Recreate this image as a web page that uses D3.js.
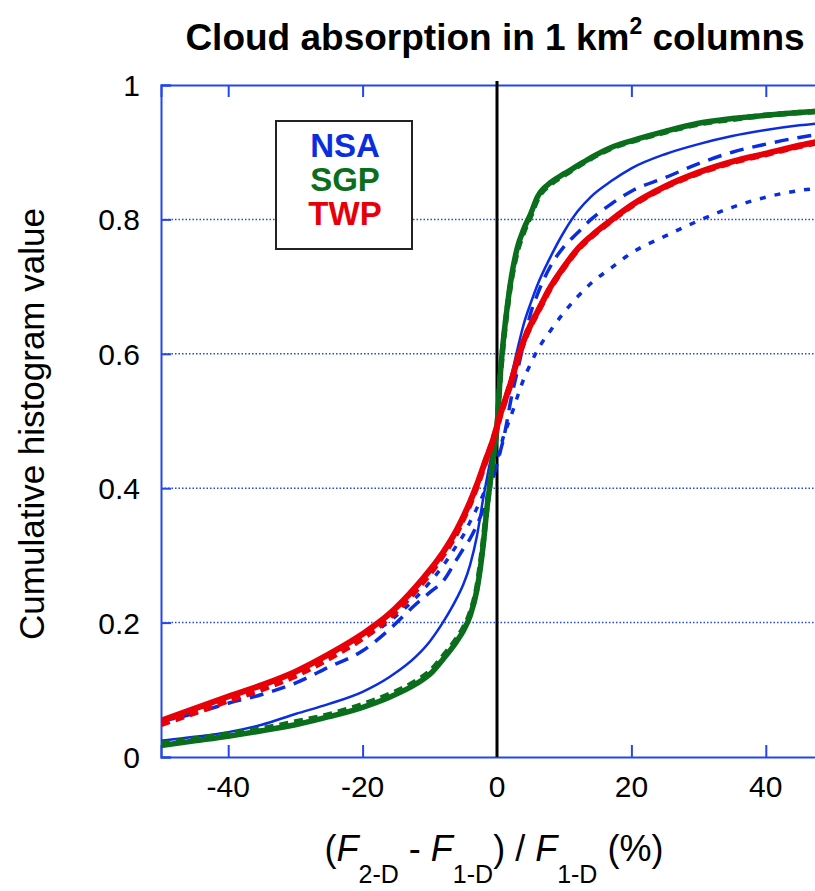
<!DOCTYPE html>
<html>
<head>
<meta charset="utf-8">
<script src="https://cdn.jsdelivr.net/npm/d3@7"></script>
<style>
	body { margin: 0; background: #fff; }
	text { font-family: "Liberation Sans", Arial, Helvetica, sans-serif; }
</style>
</head>
<body>
<svg id="chart" width="815" height="891"></svg>
<script>
var xGrid = [-50, -45, -40, -35, -30, -25, -20, -16, -12, -10, -8, -6, -5, -4, -3, -2, -1.5, -1, -0.5, 0,
	0.5, 1, 1.5, 2, 3, 4, 5, 6, 8, 10, 12, 14, 17, 20, 25, 30, 35, 40, 45, 50];

var nsaSolid = [0.024, 0.030, 0.037, 0.048, 0.064, 0.079, 0.097, 0.119, 0.150, 0.172, 0.201, 0.236, 0.257, 0.286, 0.328, 0.388, 0.415, 0.440, 0.462, 0.483,
	0.505, 0.525, 0.545, 0.562, 0.605, 0.645, 0.675, 0.702, 0.745, 0.782, 0.812, 0.834, 0.857, 0.876, 0.897, 0.912, 0.924, 0.933, 0.940, 0.945];
var nsaDashed = [0.053, 0.065, 0.080, 0.093, 0.110, 0.134, 0.158, 0.190, 0.228, 0.245, 0.262, 0.294, 0.310, 0.325, 0.345, 0.370, 0.385, 0.400, 0.418, 0.435,
	0.455, 0.475, 0.500, 0.528, 0.573, 0.617, 0.660, 0.688, 0.731, 0.760, 0.780, 0.800, 0.823, 0.842, 0.862, 0.883, 0.900, 0.912, 0.922, 0.929];
var nsaDotted = [0.055, 0.071, 0.088, 0.105, 0.124, 0.149, 0.176, 0.202, 0.238, 0.260, 0.285, 0.315, 0.330, 0.350, 0.370, 0.392, 0.405, 0.418, 0.430, 0.443,
	0.460, 0.478, 0.492, 0.505, 0.535, 0.563, 0.585, 0.605, 0.635, 0.662, 0.685, 0.705, 0.728, 0.750, 0.775, 0.798, 0.818, 0.833, 0.843, 0.848];
var sgpSolid = [0.017, 0.024, 0.031, 0.039, 0.048, 0.060, 0.074, 0.089, 0.109, 0.123, 0.146, 0.172, 0.188, 0.210, 0.248, 0.320, 0.370, 0.410, 0.450, 0.490,
	0.570, 0.625, 0.668, 0.705, 0.757, 0.786, 0.808, 0.833, 0.855, 0.868, 0.880, 0.892, 0.907, 0.917, 0.931, 0.943, 0.950, 0.955, 0.959, 0.962];
var sgpDashed = [0.020, 0.027, 0.034, 0.042, 0.052, 0.063, 0.078, 0.093, 0.113, 0.127, 0.150, 0.176, 0.192, 0.214, 0.252, 0.325, 0.372, 0.412, 0.452, 0.492,
	0.568, 0.622, 0.665, 0.702, 0.752, 0.782, 0.805, 0.830, 0.853, 0.866, 0.879, 0.891, 0.906, 0.916, 0.930, 0.942, 0.949, 0.955, 0.959, 0.962];
var twpSolid = [0.054, 0.072, 0.090, 0.107, 0.127, 0.153, 0.183, 0.213, 0.254, 0.278, 0.305, 0.338, 0.358, 0.380, 0.405, 0.433, 0.447, 0.460, 0.475, 0.492,
	0.510, 0.525, 0.540, 0.555, 0.590, 0.620, 0.643, 0.662, 0.700, 0.730, 0.756, 0.775, 0.799, 0.821, 0.849, 0.870, 0.886, 0.898, 0.910, 0.920];
var twpDashed = [0.049, 0.066, 0.084, 0.101, 0.121, 0.147, 0.177, 0.208, 0.249, 0.273, 0.301, 0.334, 0.355, 0.377, 0.403, 0.431, 0.446, 0.459, 0.474, 0.491,
	0.509, 0.524, 0.539, 0.554, 0.589, 0.619, 0.642, 0.661, 0.699, 0.729, 0.755, 0.774, 0.798, 0.820, 0.848, 0.869, 0.885, 0.897, 0.909, 0.919];

var xTicks = [-40, -20, 0, 20, 40];
var yTicks = [0, 0.2, 0.4, 0.6, 0.8, 1];
var legendNames = ["NSA", "SGP", "TWP"];

var colors = { NSA: "#0a2de0", SGP: "#0a6e1c", TWP: "#e80008" };
var frameColor = "#2247ec";

var series = [
	{ site: "NSA", values: nsaSolid, width: 2.5, dash: null },
	{ site: "NSA", values: nsaDashed, width: 3.5, dash: "14,9" },
	{ site: "NSA", values: nsaDotted, width: 3.5, dash: "6,9" },
	{ site: "SGP", values: sgpSolid, width: 5.5, dash: null },
	{ site: "SGP", values: sgpDashed, width: 5.5, dash: "9,6" },
	{ site: "TWP", values: twpSolid, width: 6, dash: null },
	{ site: "TWP", values: twpDashed, width: 6, dash: "9,6" }
];

var plot = { left: 161, top: 85, bottom: 757, right: 833 };

var x = d3.scaleLinear().domain([-50, 50]).range([plot.left, plot.right]);
var y = d3.scaleLinear().domain([0, 1]).range([plot.bottom, plot.top]);

var svg = d3.select("#chart");

svg.append("defs").append("clipPath").attr("id", "plot-clip")
	.append("rect")
	.attr("x", plot.left).attr("y", plot.top)
	.attr("width", plot.right - plot.left).attr("height", plot.bottom - plot.top);

// dotted grid lines
svg.append("g").attr("class", "grid")
	.selectAll("line")
	.data(yTicks.filter(function(d) { return d > 0 && d < 1; }))
	.enter().append("line")
	.attr("x1", plot.left).attr("x2", plot.right)
	.attr("y1", function(d) { return y(d); })
	.attr("y2", function(d) { return y(d); })
	.attr("stroke", frameColor)
	.attr("stroke-width", 1.5)
	.attr("stroke-dasharray", "1.5,2");

// axes with inward ticks
var yAxis = d3.axisRight(y).tickValues(yTicks).tickSize(10).tickFormat("");
var xAxisBottom = d3.axisTop(x).tickValues(xTicks.filter(function(d) { return d !== 0; })).tickSize(12).tickFormat("");
var xAxisTop = d3.axisBottom(x).tickValues(xTicks.filter(function(d) { return d !== 0; })).tickSize(12).tickFormat("");

svg.append("g").attr("transform", "translate(" + plot.left + ",0)").call(yAxis);
svg.append("g").attr("transform", "translate(0," + plot.bottom + ")").call(xAxisBottom);
svg.append("g").attr("transform", "translate(0," + plot.top + ")").call(xAxisTop);

svg.selectAll(".domain, .tick line")
	.attr("stroke", frameColor)
	.attr("stroke-width", 2);

// tick labels
svg.append("g").selectAll("text")
	.data(yTicks)
	.enter().append("text")
	.attr("x", 140)
	.attr("y", function(d) { return y(d) + 11; })
	.attr("text-anchor", "end")
	.attr("font-size", 30)
	.text(function(d) { return d3.format("~g")(d); });

svg.append("g").selectAll("text")
	.data(xTicks)
	.enter().append("text")
	.attr("x", function(d) { return x(d); })
	.attr("y", 797)
	.attr("text-anchor", "middle")
	.attr("font-size", 30)
	.text(function(d) { return d; });

// the zero line
svg.append("line")
	.attr("x1", x(0)).attr("x2", x(0))
	.attr("y1", plot.top - 4).attr("y2", plot.bottom)
	.attr("stroke", "#000")
	.attr("stroke-width", 3);

var line = d3.line()
	.x(function(d, i) { return x(xGrid[i]); })
	.y(function(d) { return y(d); })
	.curve(d3.curveMonotoneX);

svg.append("g").attr("clip-path", "url(#plot-clip)")
	.selectAll("path")
	.data(series)
	.enter().append("path")
	.attr("d", function(d) { return line(d.values); })
	.attr("fill", "none")
	.attr("stroke", function(d) { return colors[d.site]; })
	.attr("stroke-width", function(d) { return d.width; })
	.attr("stroke-dasharray", function(d) { return d.dash; });

// legend
var legend = svg.append("g").attr("class", "legend");
legend.append("rect")
	.attr("x", 276).attr("y", 121)
	.attr("width", 136).attr("height", 128)
	.attr("fill", "#fff")
	.attr("stroke", "#222")
	.attr("stroke-width", 2);
legend.selectAll("text")
	.data(legendNames)
	.enter().append("text")
	.attr("x", 345)
	.attr("y", function(d, i) { return 157 + i * 34; })
	.attr("text-anchor", "middle")
	.attr("font-size", 33)
	.attr("font-weight", "bold")
	.attr("fill", function(d) { return colors[d]; })
	.text(function(d) { return d; });

// title
var title = svg.append("text")
	.attr("x", 495)
	.attr("y", 50)
	.attr("text-anchor", "middle")
	.attr("font-size", 37)
	.attr("font-weight", "bold");
title.append("tspan").text("Cloud absorption in 1 km");
title.append("tspan").attr("font-size", 23).attr("dy", -16).text("2");
title.append("tspan").attr("dy", 16).text(" columns");

// axis titles
svg.append("text")
	.attr("transform", "translate(44,424) rotate(-90)")
	.attr("text-anchor", "middle")
	.attr("font-size", 35)
	.text("Cumulative histogram value");

var xTitle = svg.append("text")
	.attr("x", 494)
	.attr("y", 861)
	.attr("text-anchor", "middle")
	.attr("font-size", 36);
xTitle.append("tspan").text("(");
xTitle.append("tspan").attr("font-style", "italic").text("F");
xTitle.append("tspan").attr("font-size", 25).attr("dy", 22).text("2-D");
xTitle.append("tspan").attr("dy", -22).text(" - ");
xTitle.append("tspan").attr("font-style", "italic").text("F");
xTitle.append("tspan").attr("font-size", 25).attr("dy", 22).text("1-D");
xTitle.append("tspan").attr("dy", -22).text(") / ");
xTitle.append("tspan").attr("font-style", "italic").text("F");
xTitle.append("tspan").attr("font-size", 25).attr("dy", 22).text("1-D");
xTitle.append("tspan").attr("dy", -22).text(" (%)");
</script>
</body>
</html>
